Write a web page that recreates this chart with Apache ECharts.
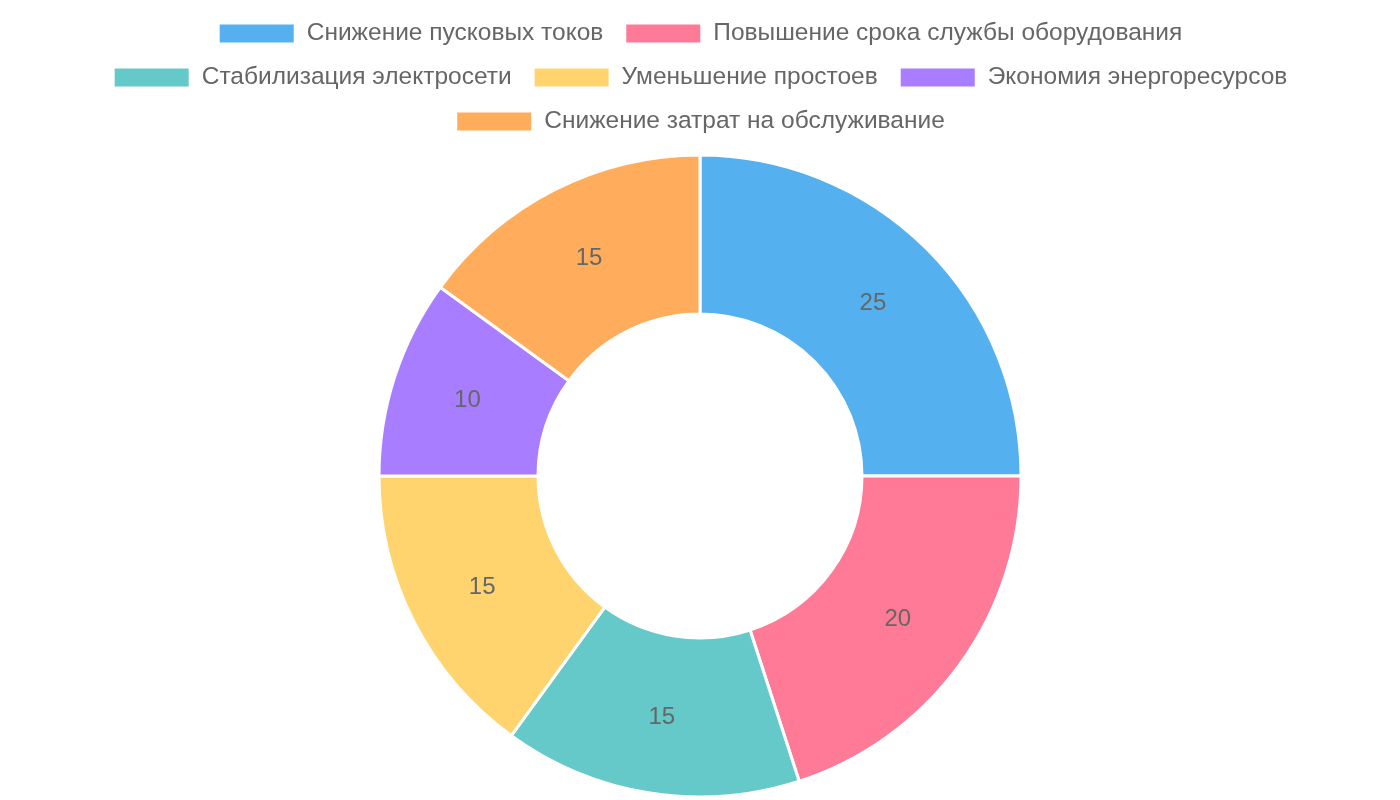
<!DOCTYPE html>
<html>
<head>
<meta charset="utf-8">
<script src="https://cdn.jsdelivr.net/npm/echarts@6/dist/echarts.min.js"></script>
<style>
  html, body { margin: 0; padding: 0; background: #fff; }
  #chart { width: 1400px; height: 800px; }
</style>
</head>
<body>
<div id="chart"></div>
<script>
var categories = [
    'Снижение пусковых токов',
    'Повышение срока службы оборудования',
    'Стабилизация электросети',
    'Уменьшение простоев',
    'Экономия энергоресурсов',
    'Снижение затрат на обслуживание'
];
var values = [25, 20, 15, 15, 10, 15];
var colors = ['#54b0ee', '#ff7a96', '#66c9c9', '#ffd46f', '#a87dff', '#ffad5c'];
// legend rows, same wrapping as the reference
var legendRows = [[0, 1], [2, 3, 4], [5]];

var chart = echarts.init(document.getElementById('chart'));

var legends = legendRows.map(function (row, i) {
    return {
        data: row.map(function (k) { return categories[k]; }),
        left: 'center',
        top: 21 + i * 44,
        padding: 0,
        itemWidth: 76,
        itemHeight: 20,
        itemGap: 21,
        icon: 'rect',
        textStyle: {
            color: '#666',
            fontSize: 24.5,
            fontFamily: 'Liberation Sans, Arial, sans-serif',
            padding: [0, 0, 0, 7]
        }
    };
});

var option = {
    color: colors,
    animation: false,
    legend: legends,
    series: [{
        type: 'pie',
        center: [700, 476],
        radius: [162, 321],
        startAngle: 90,
        clockwise: true,
        itemStyle: {
            borderColor: '#fff',
            borderWidth: 3
        },
        label: {
            show: true,
            position: 'inside',
            formatter: '{c}',
            color: '#666',
            fontSize: 24,
            fontFamily: 'Liberation Sans, Arial, sans-serif'
        },
        labelLine: { show: false },
        emphasis: { scale: false },
        data: categories.map(function (name, i) {
            return { name: name, value: values[i] };
        })
    }]
};

chart.setOption(option);
</script>
</body>
</html>
